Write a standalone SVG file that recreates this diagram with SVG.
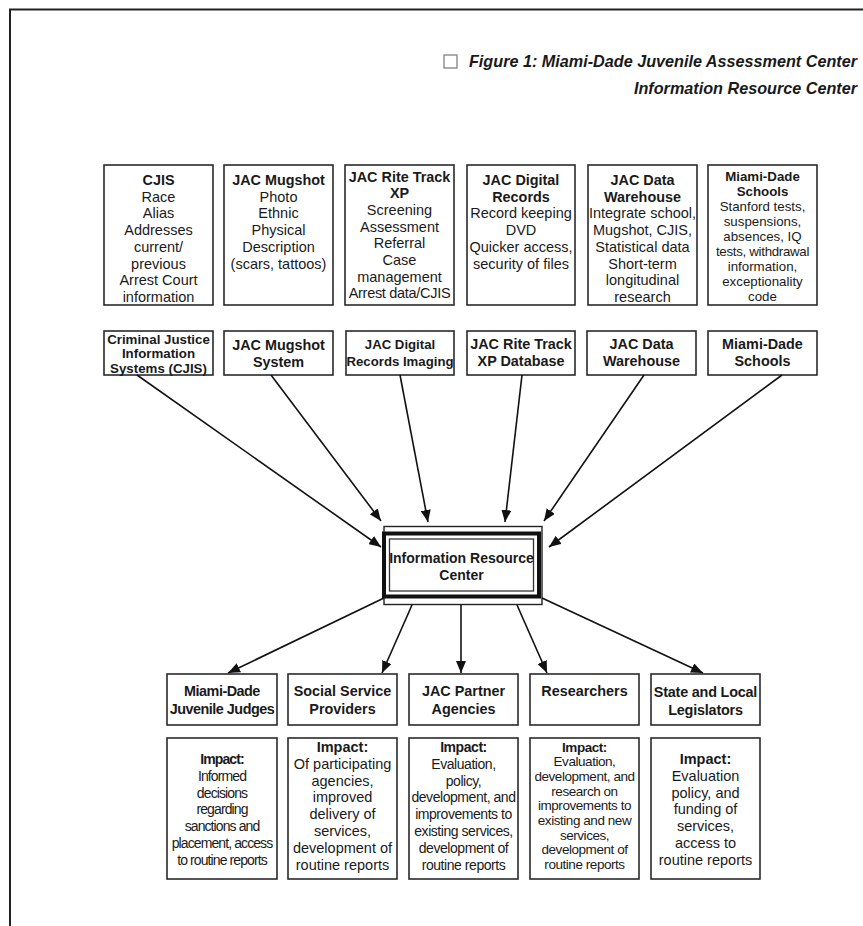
<svg xmlns="http://www.w3.org/2000/svg" width="863" height="926" viewBox="0 0 863 926">
<style>
text{font-family:"Liberation Sans",Arial,sans-serif;fill:#1a1a1a;text-anchor:middle}
.r{font-size:14.5px}
.b{font-size:14.4px;font-weight:bold}
.box{fill:#fff;stroke:#2a2a2a;stroke-width:1.6}
.conn line{stroke:#111;stroke-width:1.6;marker-end:url(#ah)}
.title{font-size:16.2px;font-weight:bold;font-style:italic;text-anchor:end}
</style>
<defs>
<marker id="ah" viewBox="0 0 12 10" refX="12" refY="5" markerWidth="12" markerHeight="10" markerUnits="userSpaceOnUse" orient="auto">
<path d="M0,0 L12,5 L0,10 z" fill="#111"/>
</marker>
</defs>
<rect width="863" height="926" fill="#fff"/>
<path d="M10,926 V9.5 H863" fill="none" stroke="#222" stroke-width="2"/>

<g id="title">
<rect x="444" y="55" width="13" height="13" fill="none" stroke="#777" stroke-width="1.2"/>
<text class="title" x="857" y="67">Figure 1: Miami-Dade Juvenile Assessment Center</text>
<text class="title" x="857" y="94">Information Resource Center</text>
</g>

<!-- top row -->
<g id="top-cjis">
<rect class="box" x="104" y="165" width="109" height="140"/>
<text x="158.5" y="185"><tspan class="b">CJIS</tspan><tspan class="r" x="158.5" dy="16.7">Race</tspan><tspan class="r" x="158.5" dy="16.7">Alias</tspan><tspan class="r" x="158.5" dy="16.7">Addresses</tspan><tspan class="r" x="158.5" dy="16.7">current/</tspan><tspan class="r" x="158.5" dy="16.7">previous</tspan><tspan class="r" x="158.5" dy="16.7">Arrest Court</tspan><tspan class="r" x="158.5" dy="16.7">information</tspan></text>
</g>
<g id="top-mugshot">
<rect class="box" x="224" y="165" width="109" height="140"/>
<text x="278.5" y="185"><tspan class="b">JAC Mugshot</tspan><tspan class="r" x="278.5" dy="16.7">Photo</tspan><tspan class="r" x="278.5" dy="16.7">Ethnic</tspan><tspan class="r" x="278.5" dy="16.7">Physical</tspan><tspan class="r" x="278.5" dy="16.7">Description</tspan><tspan class="r" x="278.5" dy="16.7">(scars, tattoos)</tspan></text>
</g>
<g id="top-ritetrack">
<rect class="box" x="345" y="165" width="109" height="140"/>
<text x="399.5" y="181.5"><tspan class="b">JAC Rite Track</tspan><tspan class="b" x="399.5" dy="16.7">XP</tspan><tspan class="r" x="399.5" dy="16.7">Screening</tspan><tspan class="r" x="399.5" dy="16.7">Assessment</tspan><tspan class="r" x="399.5" dy="16.7">Referral</tspan><tspan class="r" x="399.5" dy="16.7">Case</tspan><tspan class="r" x="399.5" dy="16.7">management</tspan><tspan class="r" x="399.5" dy="16.7" letter-spacing="-0.3">Arrest data/CJIS</tspan></text>
</g>
<g id="top-digital">
<rect class="box" x="467" y="165" width="108" height="140"/>
<text x="521" y="185"><tspan class="b">JAC Digital</tspan><tspan class="b" x="521" dy="16.7">Records</tspan><tspan class="r" x="521" dy="16.7">Record keeping</tspan><tspan class="r" x="521" dy="16.7">DVD</tspan><tspan class="r" x="521" dy="16.7">Quicker access,</tspan><tspan class="r" x="521" dy="16.7">security of files</tspan></text>
</g>
<g id="top-warehouse">
<rect class="box" x="588" y="165" width="109" height="140"/>
<text x="642.5" y="185"><tspan class="b">JAC Data</tspan><tspan class="b" x="642.5" dy="16.7">Warehouse</tspan><tspan class="r" x="642.5" dy="16.7">Integrate school,</tspan><tspan class="r" x="642.5" dy="16.7">Mugshot, CJIS,</tspan><tspan class="r" x="642.5" dy="16.7">Statistical data</tspan><tspan class="r" x="642.5" dy="16.7">Short-term</tspan><tspan class="r" x="642.5" dy="16.7">longitudinal</tspan><tspan class="r" x="642.5" dy="16.7">research</tspan></text>
</g>
<g id="top-schools">
<rect class="box" x="708" y="165" width="109" height="140"/>
<text x="762.5" y="181" font-size="13.3px"><tspan font-weight="bold">Miami-Dade</tspan><tspan font-weight="bold" x="762.5" dy="15">Schools</tspan><tspan x="762.5" dy="15">Stanford tests,</tspan><tspan x="762.5" dy="15">suspensions,</tspan><tspan x="762.5" dy="15">absences, IQ</tspan><tspan x="762.5" dy="15" letter-spacing="-0.3">tests, withdrawal</tspan><tspan x="762.5" dy="15">information,</tspan><tspan x="762.5" dy="15">exceptionality</tspan><tspan x="762.5" dy="15">code</tspan></text>
</g>

<!-- middle row -->
<g id="mid-cjis">
<rect class="box" x="104" y="331" width="109" height="44"/>
<text x="158.5" y="343.5" font-size="13.3px" font-weight="bold"><tspan>Criminal Justice</tspan><tspan x="158.5" dy="14.6">Information</tspan><tspan x="158.5" dy="14.6">Systems (CJIS)</tspan></text>
</g>
<g id="mid-mugshot">
<rect class="box" x="224" y="331" width="109" height="44"/>
<text x="278.5" y="350" class="b"><tspan>JAC Mugshot</tspan><tspan x="278.5" dy="17">System</tspan></text>
</g>
<g id="mid-digital">
<rect class="box" x="346" y="331" width="108" height="44"/>
<text x="400" y="349" font-size="13.2px" font-weight="bold"><tspan>JAC Digital</tspan><tspan x="400" dy="17">Records Imaging</tspan></text>
</g>
<g id="mid-ritetrack">
<rect class="box" x="467" y="331" width="108" height="44"/>
<text x="521" y="349" class="b"><tspan>JAC Rite Track</tspan><tspan x="521" dy="17">XP Database</tspan></text>
</g>
<g id="mid-warehouse">
<rect class="box" x="587" y="331" width="109" height="44"/>
<text x="641.5" y="349" class="b"><tspan>JAC Data</tspan><tspan x="641.5" dy="17">Warehouse</tspan></text>
</g>
<g id="mid-schools">
<rect class="box" x="708" y="331" width="109" height="44"/>
<text x="762.5" y="349" class="b"><tspan>Miami-Dade</tspan><tspan x="762.5" dy="17">Schools</tspan></text>
</g>

<!-- center -->
<g id="irc">
<rect x="384" y="526.5" width="158" height="78" fill="#fff" stroke="#222" stroke-width="1.4"/>
<rect x="384" y="533.5" width="155" height="63" fill="#fff" stroke="#111" stroke-width="4"/>
<rect x="389.5" y="539" width="144" height="52" fill="none" stroke="#333" stroke-width="1.3"/>
<text x="461.5" y="563" font-size="14px" font-weight="bold"><tspan>Information Resource</tspan><tspan x="461.5" dy="17">Center</tspan></text>
</g>

<!-- bottom name row -->
<g id="bot-judges">
<rect class="box" x="167" y="674" width="110" height="51"/>
<text x="222" y="696" class="b" letter-spacing="-0.5"><tspan>Miami-Dade</tspan><tspan x="222" dy="18">Juvenile Judges</tspan></text>
</g>
<g id="bot-social">
<rect class="box" x="288" y="674" width="109" height="51"/>
<text x="342.5" y="696" class="b"><tspan>Social Service</tspan><tspan x="342.5" dy="18">Providers</tspan></text>
</g>
<g id="bot-partner">
<rect class="box" x="409" y="674" width="109" height="51"/>
<text x="463.5" y="696" class="b"><tspan>JAC Partner</tspan><tspan x="463.5" dy="18">Agencies</tspan></text>
</g>
<g id="bot-researchers">
<rect class="box" x="530" y="674" width="109" height="51"/>
<text x="584.5" y="696" class="b">Researchers</text>
</g>
<g id="bot-legislators">
<rect class="box" x="651" y="674" width="109" height="51"/>
<text x="705.5" y="697" class="b" letter-spacing="-0.2"><tspan>State and Local</tspan><tspan x="705.5" dy="18">Legislators</tspan></text>
</g>

<!-- impact row -->
<g id="imp-judges">
<rect class="box" x="167" y="738" width="110" height="141"/>
<text x="222" y="764" font-size="14px" letter-spacing="-0.9"><tspan font-weight="bold">Impact:</tspan><tspan x="222" dy="16.8">Informed</tspan><tspan x="222" dy="16.8">decisions</tspan><tspan x="222" dy="16.8">regarding</tspan><tspan x="222" dy="16.8">sanctions and</tspan><tspan x="222" dy="16.8">placement, access</tspan><tspan x="222" dy="16.8">to routine reports</tspan></text>
</g>
<g id="imp-social">
<rect class="box" x="288" y="738" width="109" height="141"/>
<text x="342.5" y="752" class="r"><tspan font-weight="bold">Impact:</tspan><tspan x="342.5" dy="16.8">Of participating</tspan><tspan x="342.5" dy="16.8">agencies,</tspan><tspan x="342.5" dy="16.8">improved</tspan><tspan x="342.5" dy="16.8">delivery of</tspan><tspan x="342.5" dy="16.8">services,</tspan><tspan x="342.5" dy="16.8">development of</tspan><tspan x="342.5" dy="16.8">routine reports</tspan></text>
</g>
<g id="imp-partner">
<rect class="box" x="409" y="738" width="109" height="141"/>
<text x="463.5" y="752" font-size="14px" letter-spacing="-0.45"><tspan font-weight="bold">Impact:</tspan><tspan x="463.5" dy="16.8">Evaluation,</tspan><tspan x="463.5" dy="16.8">policy,</tspan><tspan x="463.5" dy="16.8">development, and</tspan><tspan x="463.5" dy="16.8">improvements to</tspan><tspan x="463.5" dy="16.8">existing services,</tspan><tspan x="463.5" dy="16.8">development of</tspan><tspan x="463.5" dy="16.8">routine reports</tspan></text>
</g>
<g id="imp-researchers">
<rect class="box" x="530" y="738" width="109" height="141"/>
<text x="584.5" y="751.5" font-size="13.5px" letter-spacing="-0.45"><tspan font-weight="bold">Impact:</tspan><tspan x="584.5" dy="14.7">Evaluation,</tspan><tspan x="584.5" dy="14.7">development, and</tspan><tspan x="584.5" dy="14.7">research on</tspan><tspan x="584.5" dy="14.7">improvements to</tspan><tspan x="584.5" dy="14.7">existing and new</tspan><tspan x="584.5" dy="14.7">services,</tspan><tspan x="584.5" dy="14.7">development of</tspan><tspan x="584.5" dy="14.7">routine reports</tspan></text>
</g>
<g id="imp-legislators">
<rect class="box" x="651" y="738" width="109" height="141"/>
<text x="705.5" y="764" class="r"><tspan font-weight="bold">Impact:</tspan><tspan x="705.5" dy="16.8">Evaluation</tspan><tspan x="705.5" dy="16.8">policy, and</tspan><tspan x="705.5" dy="16.8">funding of</tspan><tspan x="705.5" dy="16.8">services,</tspan><tspan x="705.5" dy="16.8">access to</tspan><tspan x="705.5" dy="16.8">routine reports</tspan></text>
</g>

<g id="connectors" class="conn">
<line x1="137" y1="375" x2="381" y2="547"/>
<line x1="271" y1="375" x2="381" y2="521"/>
<line x1="400" y1="375" x2="428" y2="522"/>
<line x1="522" y1="375" x2="505" y2="522"/>
<line x1="644" y1="375" x2="544" y2="521"/>
<line x1="782" y1="375" x2="549" y2="547"/>
<line x1="384" y1="598" x2="228" y2="673"/>
<line x1="412" y1="605" x2="382" y2="673"/>
<line x1="461" y1="605" x2="461" y2="673"/>
<line x1="517" y1="605" x2="547" y2="673"/>
<line x1="542" y1="598" x2="703" y2="673"/>
</g>
</svg>
